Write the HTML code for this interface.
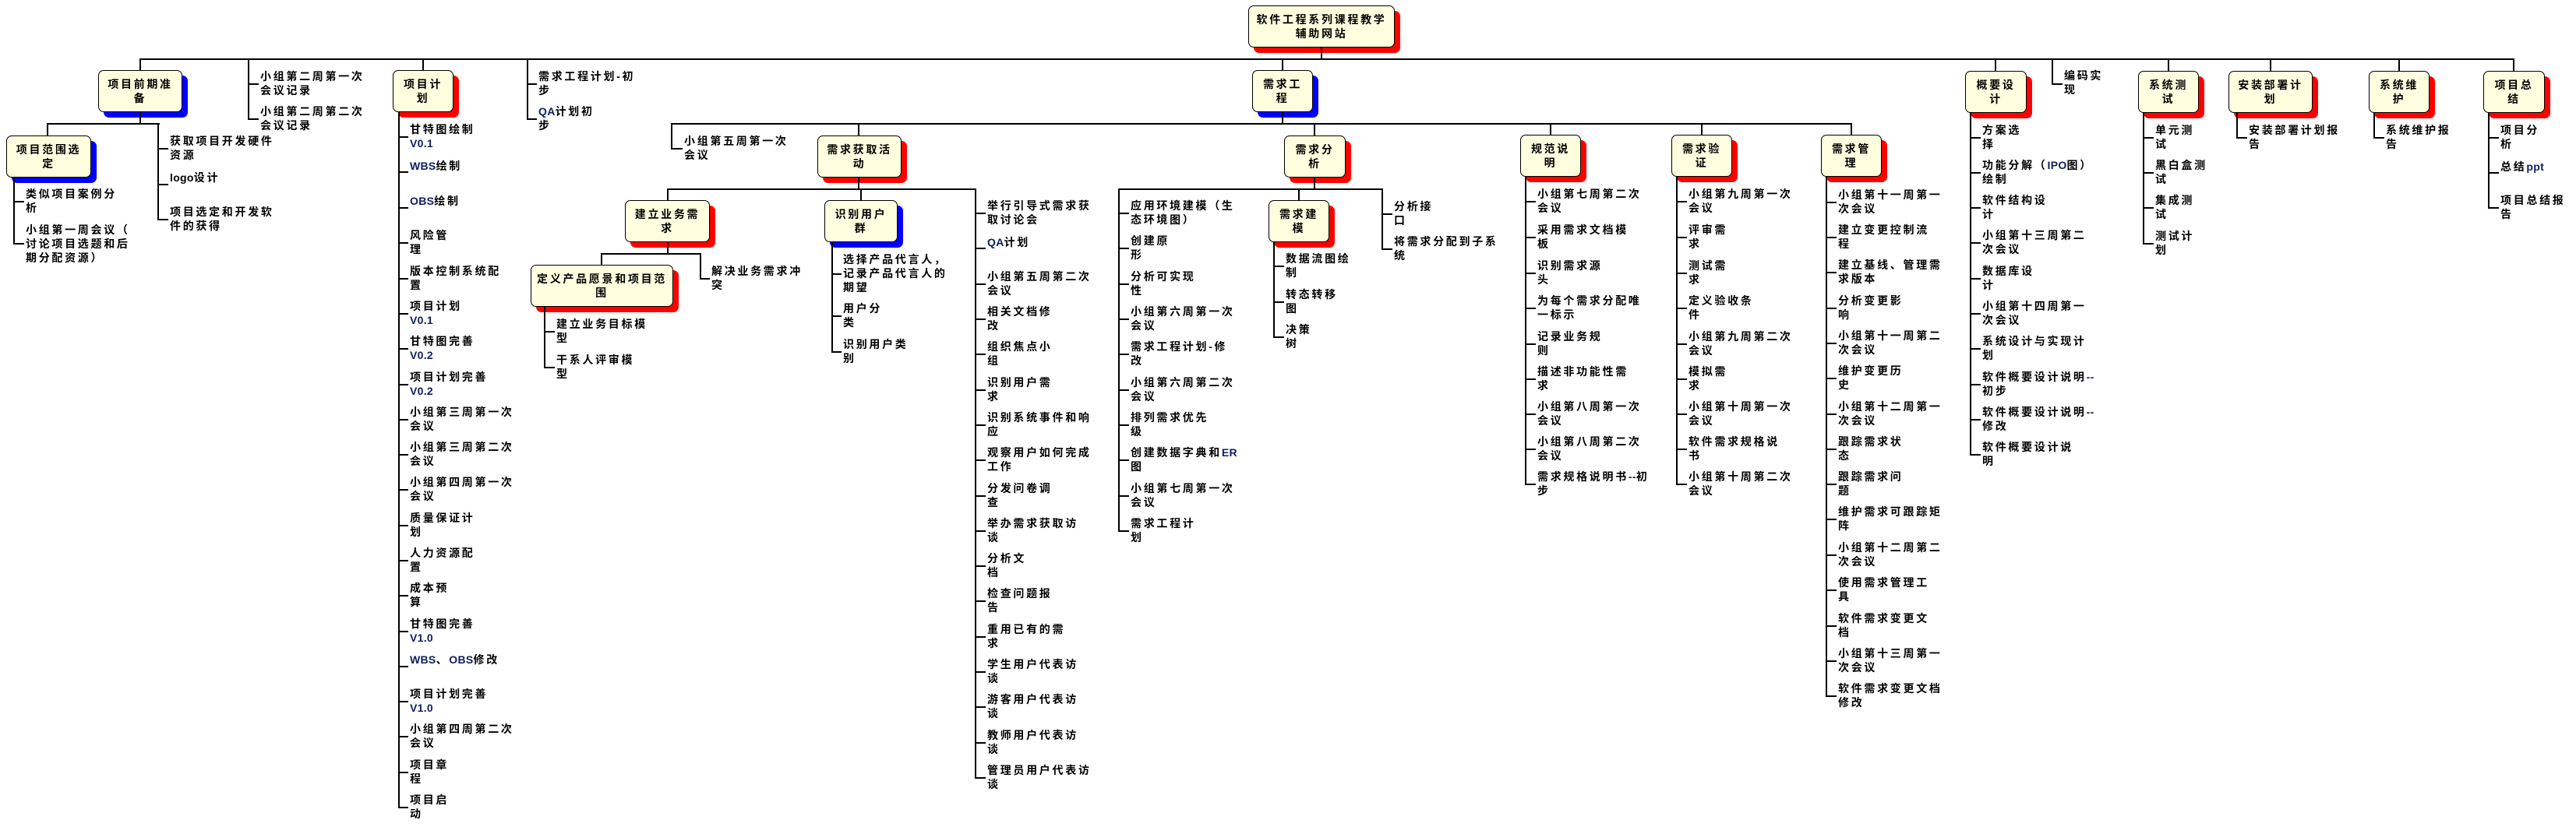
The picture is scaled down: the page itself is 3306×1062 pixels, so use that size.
<!DOCTYPE html>
<html><head><meta charset="utf-8"><style>
html,body{margin:0;padding:0;background:#fff}
body{width:3306px;height:1062px;position:relative;overflow:hidden}
.v{position:absolute;width:2px;background:#000}
.h{position:absolute;height:2px;background:#000}
.t{position:absolute;font:bold 14px/18px "Liberation Sans","Noto Sans CJK SC",sans-serif;letter-spacing:2.7px;white-space:nowrap;color:#000}
.n{color:#102060;letter-spacing:0.3px}
.b{position:absolute;box-sizing:border-box;height:54px;background:#ffffe0;border:1px solid #000;border-radius:7px;display:flex;align-items:center;justify-content:center;text-align:center;font:bold 14px/18px "Liberation Sans","Noto Sans CJK SC",sans-serif;letter-spacing:2.7px;box-shadow:7px 7px 0 #f00}
.bb{box-shadow:7px 7px 0 #00f}
</style></head><body>

<div class="b" style="left:1602px;top:7px;width:188px">软件工程系列课程教学<br>辅助网站</div>
<div class="v" style="left:1695px;top:60px;height:16px"></div>
<div class="h" style="left:179px;top:75px;width:3048px"></div>

<div class="v" style="left:179px;top:75px;height:15px"></div>
<div class="b bb" style="left:126px;top:90px;width:108px">项目前期准<br>备</div>
<div class="v" style="left:179px;top:144px;height:15px"></div>
<div class="h" style="left:60px;top:158px;width:145px"></div>
<div class="v" style="left:60px;top:158px;height:16px"></div>
<div class="b bb" style="left:8px;top:174px;width:109px">项目范围选<br>定</div>
<div class="v" style="left:17px;top:228px;height:86px"></div>
<div class="h" style="left:17px;top:258px;width:14px"></div><div class="t" style="left:33px;top:240px">类似项目案例分<br>析</div>
<div class="h" style="left:17px;top:312px;width:14px"></div><div class="t" style="left:33px;top:286px">小组第一周会议（<br>讨论项目选题和后<br>期分配资源）</div>
<div class="v" style="left:202px;top:158px;height:125px"></div>
<div class="h" style="left:202px;top:190px;width:14px"></div><div class="t" style="left:218px;top:172px">获取项目开发硬件<br>资源</div>
<div class="h" style="left:202px;top:236px;width:14px"></div><div class="t" style="left:218px;top:219px"><span class="n" style="color:#000">logo</span>设计</div>
<div class="h" style="left:202px;top:281px;width:14px"></div><div class="t" style="left:218px;top:263px">项目选定和开发软<br>件的获得</div>

<div class="v" style="left:318px;top:75px;height:79px"></div>
<div class="h" style="left:318px;top:107px;width:14px"></div><div class="t" style="left:334px;top:89px">小组第二周第一次<br>会议记录</div>
<div class="h" style="left:318px;top:152px;width:14px"></div><div class="t" style="left:334px;top:134px">小组第二周第二次<br>会议记录</div>

<div class="v" style="left:542px;top:75px;height:15px"></div>
<div class="b" style="left:504px;top:90px;width:78px">项目计<br>划</div>
<div class="v" style="left:511px;top:144px;height:894px"></div>
<div class="h" style="left:511px;top:175px;width:13px"></div><div class="t" style="left:526px;top:157px">甘特图绘制<br><span class="n">V0.1</span></div>
<div class="h" style="left:511px;top:220px;width:13px"></div><div class="t" style="left:526px;top:204px"><span class="n">WBS</span>绘制</div>
<div class="h" style="left:511px;top:266px;width:13px"></div><div class="t" style="left:526px;top:249px"><span class="n">OBS</span>绘制</div>
<div class="h" style="left:511px;top:311px;width:13px"></div><div class="t" style="left:526px;top:293px">风险管<br>理</div>
<div class="h" style="left:511px;top:357px;width:13px"></div><div class="t" style="left:526px;top:339px">版本控制系统配<br>置</div>
<div class="h" style="left:511px;top:402px;width:13px"></div><div class="t" style="left:526px;top:384px">项目计划<br><span class="n">V0.1</span></div>
<div class="h" style="left:511px;top:447px;width:13px"></div><div class="t" style="left:526px;top:429px">甘特图完善<br><span class="n">V0.2</span></div>
<div class="h" style="left:511px;top:493px;width:13px"></div><div class="t" style="left:526px;top:475px">项目计划完善<br><span class="n">V0.2</span></div>
<div class="h" style="left:511px;top:538px;width:13px"></div><div class="t" style="left:526px;top:520px">小组第三周第一次<br>会议</div>
<div class="h" style="left:511px;top:583px;width:13px"></div><div class="t" style="left:526px;top:565px">小组第三周第二次<br>会议</div>
<div class="h" style="left:511px;top:628px;width:13px"></div><div class="t" style="left:526px;top:610px">小组第四周第一次<br>会议</div>
<div class="h" style="left:511px;top:674px;width:13px"></div><div class="t" style="left:526px;top:656px">质量保证计<br>划</div>
<div class="h" style="left:511px;top:719px;width:13px"></div><div class="t" style="left:526px;top:701px">人力资源配<br>置</div>
<div class="h" style="left:511px;top:764px;width:13px"></div><div class="t" style="left:526px;top:746px">成本预<br>算</div>
<div class="h" style="left:511px;top:810px;width:13px"></div><div class="t" style="left:526px;top:792px">甘特图完善<br><span class="n">V1.0</span></div>
<div class="h" style="left:511px;top:855px;width:13px"></div><div class="t" style="left:526px;top:838px"><span class="n">WBS</span>、<span class="n">OBS</span>修改</div>
<div class="h" style="left:511px;top:900px;width:13px"></div><div class="t" style="left:526px;top:882px">项目计划完善<br><span class="n">V1.0</span></div>
<div class="h" style="left:511px;top:945px;width:13px"></div><div class="t" style="left:526px;top:927px">小组第四周第二次<br>会议</div>
<div class="h" style="left:511px;top:991px;width:13px"></div><div class="t" style="left:526px;top:973px">项目章<br>程</div>
<div class="h" style="left:511px;top:1036px;width:13px"></div><div class="t" style="left:526px;top:1018px">项目启<br>动</div>

<div class="v" style="left:676px;top:75px;height:79px"></div>
<div class="h" style="left:676px;top:107px;width:13px"></div><div class="t" style="left:691px;top:89px">需求工程计划-初<br>步</div>
<div class="h" style="left:676px;top:152px;width:13px"></div><div class="t" style="left:691px;top:134px"><span class="n">QA</span>计划初<br>步</div>

<div class="v" style="left:1645px;top:75px;height:15px"></div>
<div class="b bb" style="left:1607px;top:90px;width:78px">需求工<br>程</div>
<div class="v" style="left:1645px;top:144px;height:15px"></div>
<div class="h" style="left:861px;top:158px;width:1516px"></div>

<div class="v" style="left:861px;top:158px;height:34px"></div>
<div class="h" style="left:861px;top:190px;width:15px"></div><div class="t" style="left:878px;top:172px">小组第五周第一次<br>会议</div>

<div class="v" style="left:1101px;top:158px;height:16px"></div>
<div class="b" style="left:1049px;top:174px;width:108px">需求获取活<br>动</div>
<div class="v" style="left:1101px;top:228px;height:15px"></div>
<div class="h" style="left:856px;top:242px;width:397px"></div>

<div class="v" style="left:856px;top:242px;height:15px"></div>
<div class="b" style="left:802px;top:257px;width:109px">建立业务需<br>求</div>
<div class="v" style="left:856px;top:310px;height:16px"></div>
<div class="h" style="left:771px;top:325px;width:129px"></div>
<div class="v" style="left:771px;top:325px;height:15px"></div>
<div class="b" style="left:681px;top:340px;width:183px">定义产品愿景和项目范<br>围</div>
<div class="v" style="left:698px;top:393px;height:80px"></div>
<div class="h" style="left:698px;top:425px;width:14px"></div><div class="t" style="left:714px;top:407px">建立业务目标模<br>型</div>
<div class="h" style="left:698px;top:471px;width:14px"></div><div class="t" style="left:714px;top:453px">干系人评审模<br>型</div>
<div class="v" style="left:898px;top:325px;height:34px"></div>
<div class="h" style="left:898px;top:357px;width:13px"></div><div class="t" style="left:913px;top:339px">解决业务需求冲<br>突</div>

<div class="v" style="left:1104px;top:242px;height:15px"></div>
<div class="b bb" style="left:1058px;top:257px;width:94px">识别用户<br>群</div>
<div class="v" style="left:1067px;top:310px;height:143px"></div>
<div class="h" style="left:1067px;top:351px;width:13px"></div><div class="t" style="left:1082px;top:324px">选择产品代言人，<br>记录产品代言人的<br>期望</div>
<div class="h" style="left:1067px;top:405px;width:13px"></div><div class="t" style="left:1082px;top:387px">用户分<br>类</div>
<div class="h" style="left:1067px;top:451px;width:13px"></div><div class="t" style="left:1082px;top:433px">识别用户类<br>别</div>

<div class="v" style="left:1251px;top:242px;height:758px"></div>
<div class="h" style="left:1251px;top:273px;width:14px"></div><div class="t" style="left:1267px;top:255px">举行引导式需求获<br>取讨论会</div>
<div class="h" style="left:1251px;top:318px;width:14px"></div><div class="t" style="left:1267px;top:302px"><span class="n">QA</span>计划</div>
<div class="h" style="left:1251px;top:364px;width:14px"></div><div class="t" style="left:1267px;top:346px">小组第五周第二次<br>会议</div>
<div class="h" style="left:1251px;top:409px;width:14px"></div><div class="t" style="left:1267px;top:391px">相关文档修<br>改</div>
<div class="h" style="left:1251px;top:454px;width:14px"></div><div class="t" style="left:1267px;top:436px">组织焦点小<br>组</div>
<div class="h" style="left:1251px;top:500px;width:14px"></div><div class="t" style="left:1267px;top:482px">识别用户需<br>求</div>
<div class="h" style="left:1251px;top:545px;width:14px"></div><div class="t" style="left:1267px;top:527px">识别系统事件和响<br>应</div>
<div class="h" style="left:1251px;top:590px;width:14px"></div><div class="t" style="left:1267px;top:572px">观察用户如何完成<br>工作</div>
<div class="h" style="left:1251px;top:636px;width:14px"></div><div class="t" style="left:1267px;top:618px">分发问卷调<br>查</div>
<div class="h" style="left:1251px;top:681px;width:14px"></div><div class="t" style="left:1267px;top:663px">举办需求获取访<br>谈</div>
<div class="h" style="left:1251px;top:726px;width:14px"></div><div class="t" style="left:1267px;top:708px">分析文<br>档</div>
<div class="h" style="left:1251px;top:771px;width:14px"></div><div class="t" style="left:1267px;top:753px">检查问题报<br>告</div>
<div class="h" style="left:1251px;top:817px;width:14px"></div><div class="t" style="left:1267px;top:799px">重用已有的需<br>求</div>
<div class="h" style="left:1251px;top:862px;width:14px"></div><div class="t" style="left:1267px;top:844px">学生用户代表访<br>谈</div>
<div class="h" style="left:1251px;top:907px;width:14px"></div><div class="t" style="left:1267px;top:889px">游客用户代表访<br>谈</div>
<div class="h" style="left:1251px;top:953px;width:14px"></div><div class="t" style="left:1267px;top:935px">教师用户代表访<br>谈</div>
<div class="h" style="left:1251px;top:998px;width:14px"></div><div class="t" style="left:1267px;top:980px">管理员用户代表访<br>谈</div>

<div class="v" style="left:1686px;top:158px;height:16px"></div>
<div class="b" style="left:1648px;top:174px;width:79px">需求分<br>析</div>
<div class="v" style="left:1686px;top:228px;height:15px"></div>
<div class="h" style="left:1435px;top:242px;width:340px"></div>
<div class="v" style="left:1435px;top:242px;height:441px"></div>
<div class="h" style="left:1435px;top:273px;width:14px"></div><div class="t" style="left:1451px;top:255px">应用环境建模（生<br>态环境图）</div>
<div class="h" style="left:1435px;top:318px;width:14px"></div><div class="t" style="left:1451px;top:300px">创建原<br>形</div>
<div class="h" style="left:1435px;top:364px;width:14px"></div><div class="t" style="left:1451px;top:346px">分析可实现<br>性</div>
<div class="h" style="left:1435px;top:409px;width:14px"></div><div class="t" style="left:1451px;top:391px">小组第六周第一次<br>会议</div>
<div class="h" style="left:1435px;top:454px;width:14px"></div><div class="t" style="left:1451px;top:436px">需求工程计划-修<br>改</div>
<div class="h" style="left:1435px;top:500px;width:14px"></div><div class="t" style="left:1451px;top:482px">小组第六周第二次<br>会议</div>
<div class="h" style="left:1435px;top:545px;width:14px"></div><div class="t" style="left:1451px;top:527px">排列需求优先<br>级</div>
<div class="h" style="left:1435px;top:590px;width:14px"></div><div class="t" style="left:1451px;top:572px">创建数据字典和<span class="n">ER</span><br>图</div>
<div class="h" style="left:1435px;top:636px;width:14px"></div><div class="t" style="left:1451px;top:618px">小组第七周第一次<br>会议</div>
<div class="h" style="left:1435px;top:681px;width:14px"></div><div class="t" style="left:1451px;top:663px">需求工程计<br>划</div>

<div class="v" style="left:1666px;top:242px;height:15px"></div>
<div class="b" style="left:1628px;top:257px;width:78px">需求建<br>模</div>
<div class="v" style="left:1634px;top:310px;height:124px"></div>
<div class="h" style="left:1634px;top:341px;width:14px"></div><div class="t" style="left:1650px;top:323px">数据流图绘<br>制</div>
<div class="h" style="left:1634px;top:387px;width:14px"></div><div class="t" style="left:1650px;top:369px">转态转移<br>图</div>
<div class="h" style="left:1634px;top:432px;width:14px"></div><div class="t" style="left:1650px;top:414px">决策<br>树</div>

<div class="v" style="left:1773px;top:242px;height:79px"></div>
<div class="h" style="left:1773px;top:274px;width:14px"></div><div class="t" style="left:1789px;top:256px">分析接<br>口</div>
<div class="h" style="left:1773px;top:319px;width:14px"></div><div class="t" style="left:1789px;top:301px">将需求分配到子系<br>统</div>

<div class="v" style="left:1989px;top:158px;height:15px"></div>
<div class="b" style="left:1951px;top:173px;width:78px">规范说<br>明</div>
<div class="v" style="left:1957px;top:227px;height:396px"></div>
<div class="h" style="left:1957px;top:258px;width:14px"></div><div class="t" style="left:1973px;top:240px">小组第七周第二次<br>会议</div>
<div class="h" style="left:1957px;top:304px;width:14px"></div><div class="t" style="left:1973px;top:286px">采用需求文档模<br>板</div>
<div class="h" style="left:1957px;top:350px;width:14px"></div><div class="t" style="left:1973px;top:332px">识别需求源<br>头</div>
<div class="h" style="left:1957px;top:395px;width:14px"></div><div class="t" style="left:1973px;top:377px">为每个需求分配唯<br>一标示</div>
<div class="h" style="left:1957px;top:441px;width:14px"></div><div class="t" style="left:1973px;top:423px">记录业务规<br>则</div>
<div class="h" style="left:1957px;top:486px;width:14px"></div><div class="t" style="left:1973px;top:468px">描述非功能性需<br>求</div>
<div class="h" style="left:1957px;top:531px;width:14px"></div><div class="t" style="left:1973px;top:513px">小组第八周第一次<br>会议</div>
<div class="h" style="left:1957px;top:576px;width:14px"></div><div class="t" style="left:1973px;top:558px">小组第八周第二次<br>会议</div>
<div class="h" style="left:1957px;top:621px;width:14px"></div><div class="t" style="left:1973px;top:603px">需求规格说明书<span class="n">--</span>初<br>步</div>

<div class="v" style="left:2183px;top:158px;height:15px"></div>
<div class="b" style="left:2145px;top:173px;width:78px">需求验<br>证</div>
<div class="v" style="left:2151px;top:227px;height:396px"></div>
<div class="h" style="left:2151px;top:258px;width:14px"></div><div class="t" style="left:2167px;top:240px">小组第九周第一次<br>会议</div>
<div class="h" style="left:2151px;top:304px;width:14px"></div><div class="t" style="left:2167px;top:286px">评审需<br>求</div>
<div class="h" style="left:2151px;top:350px;width:14px"></div><div class="t" style="left:2167px;top:332px">测试需<br>求</div>
<div class="h" style="left:2151px;top:395px;width:14px"></div><div class="t" style="left:2167px;top:377px">定义验收条<br>件</div>
<div class="h" style="left:2151px;top:441px;width:14px"></div><div class="t" style="left:2167px;top:423px">小组第九周第二次<br>会议</div>
<div class="h" style="left:2151px;top:486px;width:14px"></div><div class="t" style="left:2167px;top:468px">模拟需<br>求</div>
<div class="h" style="left:2151px;top:531px;width:14px"></div><div class="t" style="left:2167px;top:513px">小组第十周第一次<br>会议</div>
<div class="h" style="left:2151px;top:576px;width:14px"></div><div class="t" style="left:2167px;top:558px">软件需求规格说<br>书</div>
<div class="h" style="left:2151px;top:621px;width:14px"></div><div class="t" style="left:2167px;top:603px">小组第十周第二次<br>会议</div>

<div class="v" style="left:2375px;top:158px;height:15px"></div>
<div class="b" style="left:2337px;top:173px;width:78px">需求管<br>理</div>
<div class="v" style="left:2343px;top:227px;height:668px"></div>
<div class="h" style="left:2343px;top:259px;width:14px"></div><div class="t" style="left:2359px;top:241px">小组第十一周第一<br>次会议</div>
<div class="h" style="left:2343px;top:304px;width:14px"></div><div class="t" style="left:2359px;top:286px">建立变更控制流<br>程</div>
<div class="h" style="left:2343px;top:349px;width:14px"></div><div class="t" style="left:2359px;top:331px">建立基线、管理需<br>求版本</div>
<div class="h" style="left:2343px;top:395px;width:14px"></div><div class="t" style="left:2359px;top:377px">分析变更影<br>响</div>
<div class="h" style="left:2343px;top:440px;width:14px"></div><div class="t" style="left:2359px;top:422px">小组第十一周第二<br>次会议</div>
<div class="h" style="left:2343px;top:485px;width:14px"></div><div class="t" style="left:2359px;top:467px">维护变更历<br>史</div>
<div class="h" style="left:2343px;top:531px;width:14px"></div><div class="t" style="left:2359px;top:513px">小组第十二周第一<br>次会议</div>
<div class="h" style="left:2343px;top:576px;width:14px"></div><div class="t" style="left:2359px;top:558px">跟踪需求状<br>态</div>
<div class="h" style="left:2343px;top:621px;width:14px"></div><div class="t" style="left:2359px;top:603px">跟踪需求问<br>题</div>
<div class="h" style="left:2343px;top:666px;width:14px"></div><div class="t" style="left:2359px;top:648px">维护需求可跟踪矩<br>阵</div>
<div class="h" style="left:2343px;top:712px;width:14px"></div><div class="t" style="left:2359px;top:694px">小组第十二周第二<br>次会议</div>
<div class="h" style="left:2343px;top:757px;width:14px"></div><div class="t" style="left:2359px;top:739px">使用需求管理工<br>具</div>
<div class="h" style="left:2343px;top:803px;width:14px"></div><div class="t" style="left:2359px;top:785px">软件需求变更文<br>档</div>
<div class="h" style="left:2343px;top:848px;width:14px"></div><div class="t" style="left:2359px;top:830px">小组第十三周第一<br>次会议</div>
<div class="h" style="left:2343px;top:893px;width:14px"></div><div class="t" style="left:2359px;top:875px">软件需求变更文档<br>修改</div>

<div class="v" style="left:2560px;top:75px;height:16px"></div>
<div class="b" style="left:2522px;top:91px;width:79px">概要设<br>计</div>
<div class="v" style="left:2528px;top:144px;height:441px"></div>
<div class="h" style="left:2528px;top:176px;width:14px"></div><div class="t" style="left:2544px;top:158px">方案选<br>择</div>
<div class="h" style="left:2528px;top:221px;width:14px"></div><div class="t" style="left:2544px;top:203px">功能分解（<span class="n">IPO</span>图）<br>绘制</div>
<div class="h" style="left:2528px;top:266px;width:14px"></div><div class="t" style="left:2544px;top:248px">软件结构设<br>计</div>
<div class="h" style="left:2528px;top:311px;width:14px"></div><div class="t" style="left:2544px;top:293px">小组第十三周第二<br>次会议</div>
<div class="h" style="left:2528px;top:357px;width:14px"></div><div class="t" style="left:2544px;top:339px">数据库设<br>计</div>
<div class="h" style="left:2528px;top:402px;width:14px"></div><div class="t" style="left:2544px;top:384px">小组第十四周第一<br>次会议</div>
<div class="h" style="left:2528px;top:447px;width:14px"></div><div class="t" style="left:2544px;top:429px">系统设计与实现计<br>划</div>
<div class="h" style="left:2528px;top:493px;width:14px"></div><div class="t" style="left:2544px;top:475px">软件概要设计说明<span class="n">--</span><br>初步</div>
<div class="h" style="left:2528px;top:538px;width:14px"></div><div class="t" style="left:2544px;top:520px">软件概要设计说明<span class="n">--</span><br>修改</div>
<div class="h" style="left:2528px;top:583px;width:14px"></div><div class="t" style="left:2544px;top:565px">软件概要设计说<br>明</div>

<div class="v" style="left:2633px;top:75px;height:34px"></div>
<div class="h" style="left:2633px;top:107px;width:14px"></div><div class="t" style="left:2649px;top:88px">编码实<br>现</div>

<div class="v" style="left:2782px;top:75px;height:16px"></div>
<div class="b" style="left:2744px;top:91px;width:78px">系统测<br>试</div>
<div class="v" style="left:2750px;top:144px;height:170px"></div>
<div class="h" style="left:2750px;top:176px;width:14px"></div><div class="t" style="left:2766px;top:158px">单元测<br>试</div>
<div class="h" style="left:2750px;top:221px;width:14px"></div><div class="t" style="left:2766px;top:203px">黑白盒测<br>试</div>
<div class="h" style="left:2750px;top:266px;width:14px"></div><div class="t" style="left:2766px;top:248px">集成测<br>试</div>
<div class="h" style="left:2750px;top:312px;width:14px"></div><div class="t" style="left:2766px;top:294px">测试计<br>划</div>

<div class="v" style="left:2913px;top:75px;height:16px"></div>
<div class="b" style="left:2860px;top:91px;width:108px">安装部署计<br>划</div>
<div class="v" style="left:2870px;top:144px;height:34px"></div>
<div class="h" style="left:2870px;top:176px;width:14px"></div><div class="t" style="left:2886px;top:158px">安装部署计划报<br>告</div>

<div class="v" style="left:3078px;top:75px;height:16px"></div>
<div class="b" style="left:3040px;top:91px;width:78px">系统维<br>护</div>
<div class="v" style="left:3046px;top:144px;height:34px"></div>
<div class="h" style="left:3046px;top:176px;width:14px"></div><div class="t" style="left:3062px;top:158px">系统维护报<br>告</div>

<div class="v" style="left:3225px;top:75px;height:16px"></div>
<div class="b" style="left:3187px;top:91px;width:79px">项目总<br>结</div>
<div class="v" style="left:3193px;top:144px;height:124px"></div>
<div class="h" style="left:3193px;top:176px;width:14px"></div><div class="t" style="left:3209px;top:158px">项目分<br>析</div>
<div class="h" style="left:3193px;top:221px;width:14px"></div><div class="t" style="left:3209px;top:205px">总结<span class="n">ppt</span></div>
<div class="h" style="left:3193px;top:266px;width:14px"></div><div class="t" style="left:3209px;top:248px">项目总结报<br>告</div>

</body></html>
